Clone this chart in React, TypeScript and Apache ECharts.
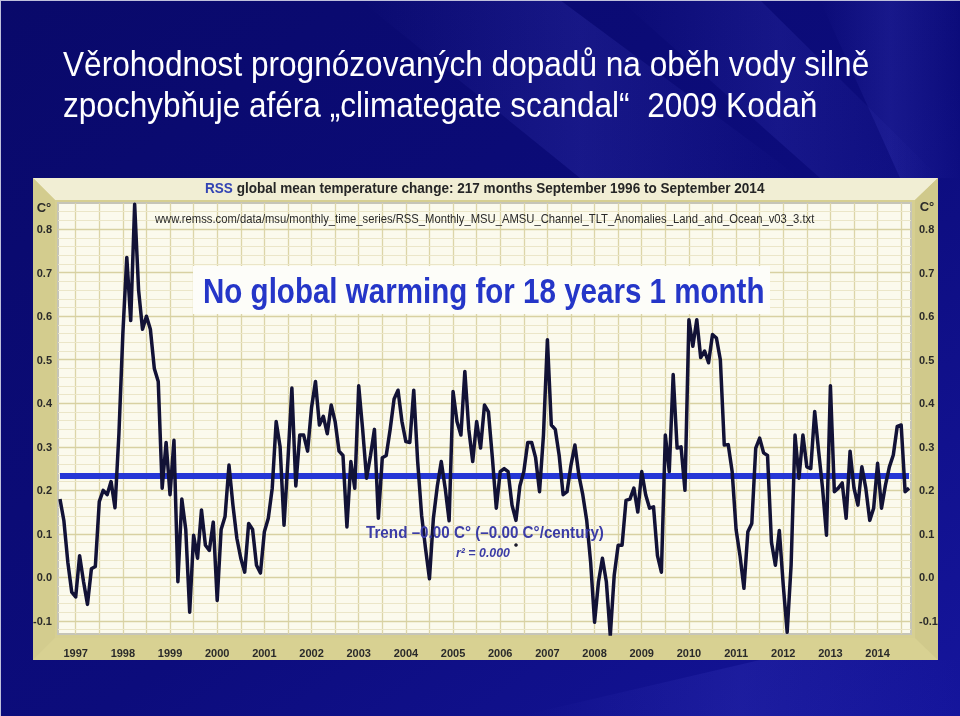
import React, { useEffect, useRef } from "react";
import * as echarts from "echarts";

// ---------- texts ----------
const slideTitle = [
  "Věrohodnost prognózovaných dopadů na oběh vody silně",
  "zpochybňuje aféra „climategate scandal“  2009 Kodaň",
];
const chartTitleLead = "RSS";
const chartTitleRest = " global mean temperature change: 217 months September 1996 to September 2014";
const sourceUrl =
  "www.remss.com/data/msu/monthly_time_series/RSS_Monthly_MSU_AMSU_Channel_TLT_Anomalies_Land_and_Ocean_v03_3.txt";
const headline = "No global warming for 18 years 1 month";
const trendText = "Trend –0.00 C° (–0.00 C°/century)";
const r2Text = "r² = 0.000";
const unitLabel = "C°";

// ---------- axes ----------
const years = ["1997", "1998", "1999", "2000", "2001", "2002", "2003", "2004", "2005",
  "2006", "2007", "2008", "2009", "2010", "2011", "2012", "2013", "2014"];
const yTicks = [-0.1, 0.0, 0.1, 0.2, 0.3, 0.4, 0.5, 0.6, 0.7, 0.8];
const START_YEAR = 1996;
const START_MONTH = 8; // September (0-based)

// ---------- monthly anomalies (°C), Sep 1996 – Sep 2014 ----------
const a1996 = [0.18, 0.13, 0.035, -0.034];
const a1997 = [-0.045, 0.05, -0.01, -0.062, 0.02, 0.025, 0.174, 0.2, 0.19, 0.22, 0.16, 0.33];
const a1998 = [0.56, 0.735, 0.59, 0.857, 0.66, 0.57, 0.6, 0.57, 0.48, 0.45, 0.205, 0.31];
const a1999 = [0.19, 0.315, -0.01, 0.18, 0.11, -0.08, 0.097, 0.044, 0.155, 0.074, 0.062, 0.127];
const a2000 = [-0.053, 0.11, 0.14, 0.258, 0.166, 0.09, 0.044, 0.012, 0.124, 0.11, 0.028, 0.01];
const a2001 = [0.105, 0.136, 0.205, 0.358, 0.3, 0.12, 0.27, 0.435, 0.21, 0.327, 0.327, 0.29];
const a2002 = [0.39, 0.45, 0.35, 0.37, 0.33, 0.396, 0.358, 0.29, 0.28, 0.116, 0.266, 0.205];
const a2003 = [0.44, 0.34, 0.228, 0.28, 0.34, 0.136, 0.275, 0.28, 0.34, 0.41, 0.43, 0.358];
const a2004 = [0.312, 0.31, 0.43, 0.266, 0.143, 0.066, -0.003, 0.136, 0.21, 0.266, 0.205, 0.13];
const a2005 = [0.427, 0.358, 0.327, 0.473, 0.34, 0.266, 0.358, 0.297, 0.396, 0.38, 0.275, 0.159];
const a2006 = [0.243, 0.25, 0.243, 0.166, 0.131, 0.21, 0.243, 0.31, 0.31, 0.275, 0.197, 0.327];
const a2007 = [0.546, 0.35, 0.34, 0.28, 0.19, 0.197, 0.258, 0.304, 0.235, 0.19, 0.131, 0.035];
const a2008 = [-0.103, -0.01, 0.044, -0.01, -0.134, 0.005, 0.074, 0.074, 0.177, 0.18, 0.205, 0.15];
const a2009 = [0.243, 0.19, 0.159, 0.162, 0.05, 0.012, 0.327, 0.243, 0.466, 0.297, 0.3, 0.2];
const a2010 = [0.592, 0.531, 0.592, 0.505, 0.52, 0.493, 0.558, 0.55, 0.5, 0.304, 0.305, 0.243];
const a2011 = [0.11, 0.05, -0.025, 0.105, 0.124, 0.297, 0.32, 0.286, 0.28, 0.081, 0.028, 0.108];
const a2012 = [-0.018, -0.126, 0.028, 0.327, 0.228, 0.327, 0.254, 0.25, 0.381, 0.29, 0.205, 0.097];
const a2013 = [0.44, 0.197, 0.205, 0.217, 0.136, 0.29, 0.205, 0.166, 0.254, 0.205, 0.131, 0.159];
const a2014 = [0.262, 0.159, 0.212, 0.254, 0.281, 0.347, 0.35, 0.197, 0.205];

const trendLevel = [0.233];

const FONT = '"Liberation Sans", Arial, sans-serif';

let measureCtx: CanvasRenderingContext2D | null = null;
function fitScale(text: string, font: string, width: number) {
  if (!measureCtx) measureCtx = document.createElement("canvas").getContext("2d");
  if (!measureCtx) return 1;
  measureCtx.font = font;
  const w = measureCtx.measureText(text).width;
  return w > 0 ? width / w : 1;
}

function streak(points: number[][], alpha: number) {
  return {
    type: "polygon",
    z: -19,
    shape: { points },
    style: {
      fill: {
        type: "linear", x: 0, y: 0, x2: 1, y2: 0,
        colorStops: [
          { offset: 0, color: `rgba(90,90,230,0)` },
          { offset: 0.5, color: `rgba(90,90,230,${alpha})` },
          { offset: 1, color: `rgba(90,90,230,0)` },
        ],
      },
    },
  };
}

function makeOption() {
  const anomalies = [
    ...a1996, ...a1997, ...a1998, ...a1999, ...a2000, ...a2001, ...a2002, ...a2003, ...a2004,
    ...a2005, ...a2006, ...a2007, ...a2008, ...a2009, ...a2010, ...a2011, ...a2012, ...a2013, ...a2014,
  ];
  const lastIdx = anomalies.length - 1;
  const seriesData = anomalies.map((v, i) => [i, v]);
  const trendData = [[0, trendLevel[0]], [lastIdx, trendLevel[0]]];
  const yearIdx = years.map((y) => (Number(y) - START_YEAR) * 12 - START_MONTH);

  const gridL = 58, gridT = 203, gridW = 853, gridH = 431;
  const yMin = -0.13, yMax = 0.86;

  // grid lines as mark lines
  const gridLines: any[] = [];
  for (let m = yearIdx[0]; m <= lastIdx; m += 6) {
    gridLines.push({ xAxis: m, lineStyle: { color: "#dcd5a8", width: 1.3, type: "solid" } });
  }
  for (let k = -6; k * 0.02 < yMax - 0.005; k++) {
    const v = Math.round(k * 2) / 100;
    const major = k % 5 === 0;
    gridLines.push({
      yAxis: v,
      lineStyle: { color: major ? "#d8d1a2" : "#ebe6c8", width: major ? 1.4 : 1, type: "solid" },
    });
  }

  const W = 960, H = 716;
  const fx0 = 33, fy0 = 178, fx1 = 938, fy1 = 660;

  const titleFont = `normal 36px ${FONT}`;
  const chartTitleFont = `bold 14px ${FONT}`;
  const urlFont = `normal 12px ${FONT}`;
  const headFont = `bold 36px ${FONT}`;
  const trendFont = `bold 16px ${FONT}`;
  const r2Font = `italic bold 12px ${FONT}`;

  const graphic: any[] = [
    // slide background
    {
      type: "rect", z: -20, shape: { x: 0, y: 0, width: W, height: H },
      style: {
        fill: {
          type: "linear", x: 0, y: 0, x2: 1, y2: 1,
          colorStops: [
            { offset: 0, color: "#09096a" },
            { offset: 0.55, color: "#0c0c7c" },
            { offset: 1, color: "#15159c" },
          ],
        },
      },
    },
    streak([[360, 0], [560, 0], [800, 178], [580, 178]], 0.16),
    streak([[620, 0], [760, 0], [940, 178], [820, 178]], 0.14),
    streak([[820, 0], [960, 0], [960, 178], [900, 178]], 0.16),
    streak([[520, 716], [760, 660], [960, 660], [960, 716]], 0.14),
    // slide edge
    { type: "rect", z: -19, shape: { x: 0, y: 0, width: W, height: 1 }, style: { fill: "#bfc0dc" } },
    { type: "rect", z: -19, shape: { x: 0, y: 0, width: 1, height: H }, style: { fill: "#bfc0dc" } },
    // chart frame
    { type: "rect", z: -18, shape: { x: fx0, y: fy0, width: fx1 - fx0, height: fy1 - fy0 }, style: { fill: "#d6cf92" } },
    { type: "polygon", z: -17, shape: { points: [[fx0, fy0], [fx1, fy0], [915, 200], [55, 200]] }, style: { fill: "#f1eed4" } },
    { type: "polygon", z: -17, shape: { points: [[fx0, fy0], [55, 200], [55, 638], [fx0, fy1]] }, style: { fill: "#d3cc8e" } },
    { type: "polygon", z: -17, shape: { points: [[fx0, fy1], [55, 638], [915, 638], [fx1, fy1]] }, style: { fill: "#d8d192" } },
    { type: "polygon", z: -17, shape: { points: [[fx1, fy0], [915, 200], [915, 638], [fx1, fy1]] }, style: { fill: "#d0c98b" } },
    // plot background
    { type: "rect", z: -16, shape: { x: gridL, y: gridT, width: gridW, height: gridH }, style: { fill: "#fbfaed" } },
    // plot border
    { type: "rect", z: 1, shape: { x: gridL, y: gridT, width: gridW, height: gridH },
      style: { fill: "none", stroke: "#c6c5b8", lineWidth: 2 } },
    // headline box
    { type: "rect", z: 8, shape: { x: 193, y: 266, width: 577, height: 48 }, style: { fill: "#fdfdf9" } },
    // slide title
    { type: "text", z: 10, x: 63, y: 63, scaleX: fitScale(slideTitle[0], titleFont, 807),
      style: { text: slideTitle[0], fill: "#ffffff", fontSize: 36, fontFamily: FONT, textAlign: "left", textVerticalAlign: "middle" } },
    { type: "text", z: 10, x: 63, y: 104, scaleX: fitScale(slideTitle[1], titleFont, 755),
      style: { text: slideTitle[1], fill: "#ffffff", fontSize: 36, fontFamily: FONT, textAlign: "left", textVerticalAlign: "middle" } },
    // chart title
    { type: "text", z: 10, x: 205, y: 188, scaleX: fitScale(chartTitleLead + chartTitleRest, chartTitleFont, 560),
      style: {
        text: `{a|${chartTitleLead}}${chartTitleRest}`, fill: "#262626", fontSize: 14, fontWeight: "bold", fontFamily: FONT,
        textAlign: "left", textVerticalAlign: "middle",
        rich: { a: { fill: "#3344b4", fontSize: 14, fontWeight: "bold", fontFamily: FONT } },
      } },
    // url
    { type: "text", z: 10, x: 155, y: 218, scaleX: fitScale(sourceUrl, urlFont, 660),
      style: { text: sourceUrl, fill: "#2a2a2a", fontSize: 12, fontFamily: FONT, textAlign: "left", textVerticalAlign: "middle" } },
    // headline
    { type: "text", z: 10, x: 203, y: 290, scaleX: fitScale(headline, headFont, 562),
      style: { text: headline, fill: "#2536c8", fontSize: 36, fontWeight: "bold", fontFamily: FONT, textAlign: "left", textVerticalAlign: "middle" } },
    // trend
    { type: "text", z: 10, x: 366, y: 532, scaleX: fitScale(trendText, trendFont, 238),
      style: { text: trendText, fill: "#3b3ca6", fontSize: 16, fontWeight: "bold", fontFamily: FONT, textAlign: "left", textVerticalAlign: "middle" } },
    { type: "text", z: 10, x: 456, y: 553, scaleX: fitScale(r2Text, r2Font, 54),
      style: { text: r2Text, fill: "#3b3ca6", fontSize: 12, fontWeight: "bold", fontStyle: "italic", fontFamily: FONT, textAlign: "left", textVerticalAlign: "middle" } },
    { type: "circle", z: 10, shape: { cx: 516, cy: 545, r: 1.8 }, style: { fill: "#1a1a2a" } },
    // units
    { type: "text", z: 10, x: 44, y: 207,
      style: { text: unitLabel, fill: "#2a2a2a", fontSize: 13, fontWeight: "bold", fontFamily: FONT, textAlign: "center", textVerticalAlign: "middle" } },
    { type: "text", z: 10, x: 927, y: 206,
      style: { text: unitLabel, fill: "#2a2a2a", fontSize: 13, fontWeight: "bold", fontFamily: FONT, textAlign: "center", textVerticalAlign: "middle" } },
  ];

  const yAxisBase = {
    type: "value",
    min: yMin,
    max: yMax,
    axisLine: { show: false },
    axisTick: { show: false },
    splitLine: { show: false },
  };
  const yLabel = {
    customValues: yTicks,
    formatter: (v: number) => v.toFixed(1),
    color: "#2a2a2a",
    fontSize: 11,
    fontWeight: "bold",
    fontFamily: FONT,
  };

  return {
    animation: false,
    backgroundColor: "transparent",
    graphic: { elements: graphic },
    grid: { left: gridL, top: gridT, width: gridW, height: gridH, containLabel: false },
    xAxis: {
      type: "value",
      min: -0.5,
      max: lastIdx + 0.5,
      axisLine: { show: false },
      axisTick: { show: false },
      splitLine: { show: false },
      axisLabel: {
        customValues: yearIdx,
        formatter: (v: number) => String(START_YEAR + Math.floor((v + START_MONTH) / 12)),
        color: "#2a2a2a",
        fontSize: 11,
        fontWeight: "bold",
        fontFamily: FONT,
        margin: 13,
      },
    },
    yAxis: [
      { ...yAxisBase, position: "left", axisLabel: { ...yLabel, margin: 6 } },
      { ...yAxisBase, position: "right", axisLabel: { ...yLabel, margin: 8 } },
    ],
    series: [
      {
        type: "line",
        name: "grid",
        data: [],
        silent: true,
        markLine: {
          silent: true,
          z: 1,
          symbol: ["none", "none"],
          label: { show: false },
          animation: false,
          data: gridLines,
        },
      },
      {
        type: "line",
        name: "trend",
        data: trendData,
        showSymbol: false,
        silent: true,
        z: 3,
        lineStyle: { color: "#2637d6", width: 6 },
      },
      {
        type: "line",
        name: "RSS",
        data: seriesData,
        showSymbol: false,
        silent: true,
        z: 4,
        lineStyle: { color: "#121236", width: 3.5, join: "round" },
      },
    ],
  };
}

export default function App() {
  const ref = useRef<HTMLDivElement>(null);
  useEffect(() => {
    if (!ref.current) return;
    const chart = echarts.init(ref.current, null, { renderer: "svg" });
    chart.setOption(makeOption() as any);
    return () => chart.dispose();
  }, []);
  return (
    <div
      ref={ref}
      style={{ position: "fixed", left: 0, top: 0, width: 960, height: 716 }}
    />
  );
}
